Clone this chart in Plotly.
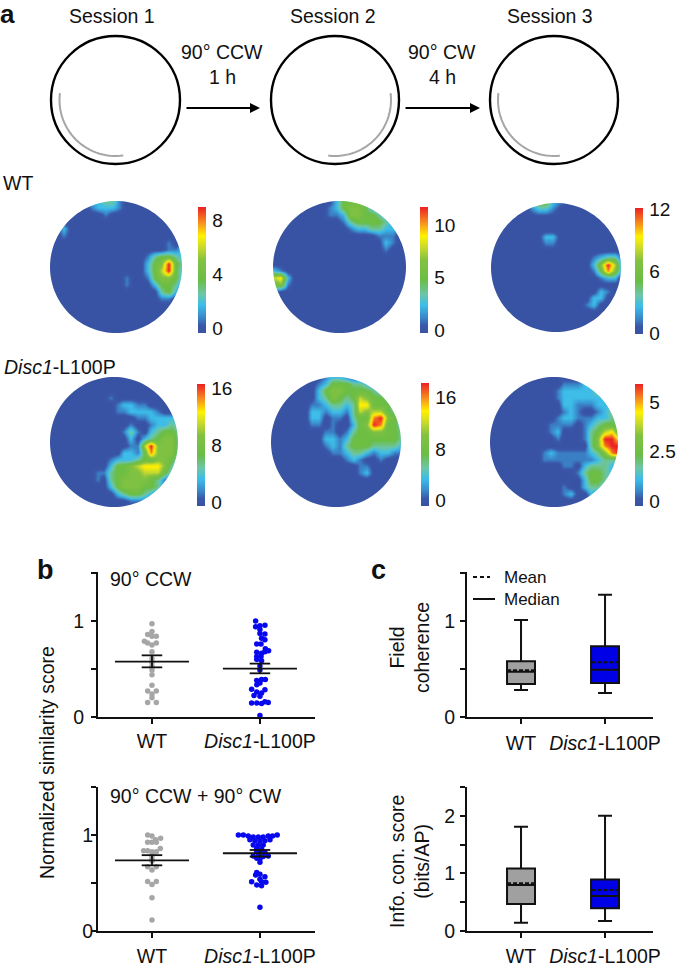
import math
import plotly.graph_objects as go

W, H = 685, 968
FONT = "Liberation Sans"

# ---------- panel a: firing-rate maps, colour level 0-9 on a 20x20 grid ----------
WT_S1 = [
"00000022331000000000","00000012221000000000","00000000100000000000","00000000000000000000",
"00200000000000000000","00100000000000000000","00000000000000000100","00000000000000000112",
"00000000000000134432","00000000000000245943","00000000000000246942","00000000000100145542",
"00000000000100024431","00000000000000003420","00000000000000001100","00000000000000000000",
"00000000000000000000","00000000000000000000","00000000000000000000","00000000000000000000"]
WT_S2 = [
"00000000024443200000","00000000124554210000","00000000112554431000","00000000001344443100",
"00000000000122332210","00000000000000011100","00000000000000002100","00000000000000001000",
"00000000000000000000","00000000000000000000","21000000000000000000","67200000000000000000",
"45100000000000000000","10000000000000000000","00000000000000000000","00000000000000000000",
"00000000000000000000","00000000000000000000","00000000000000000000","00000000000000000000"]
WT_S3 = [
"00000024421000000000","00000012210000000000","00000000000000000000","00000000000000000000",
"00000000000000000000","00000000220000000000","00000000110000000000","00000000000000000000",
"00000000000000012331","00000000000000025962","00000000000000014852","00000000000000001220",
"00000000000000000000","00000000000000002100","00000000000000022000","00000000000000120000",
"00000000000000000000","00000000000000000000","00000000000000000000","00000000000000000000"]
D1_S1 = [
"00000000000000000000","00000000000000000000","00000000000000000000","00000000010000000000",
"00000000001221100000","00000000001122221000","00000000000001122222","00000000000010012232",
"00000000000131023443","00000000000020234553","00000000000011695553","00000000000221485553",
"00000000012223445542","00000000024456777531","00000001134455666421","00000001034555543100",
"00000000024555443100","00000000002344321000","00000000000011100000","00000000000000000000"]
D1_S2 = [
"00000000122100000000","00000001244433210000","00000002455444432000","00000002354346544310",
"00000011233237744420","00000022122136566431","00000022011034489542","00000011010024598442",
"00000000110134455443","00000000221244444443","00000000121344433332","00000000011233212211",
"00000000000121001000","00000000000001100000","00000000000001200000","00000000000000000000",
"00000000000000000000","00000000000000000000","00000000000000000000","00000000000000000000"]
D1_S3 = [
"00000000000000000000","00000000000111223000","00000000001222223400","00000000001222222230",
"00000000000221112220","00000000000121001232","00000000001221112233","00000000011110123443",
"00000000012000134674","00000000001000135997","00000000000000035899","00000000121111123589",
"00000000111111112333","00000000000110233321","00000000000001344320","00000000000000244320",
"00000000000100233200","00000000000120021000","00000000000000000000","00000000000000000000"]

MAPS = [WT_S1, WT_S2, WT_S3, D1_S1, D1_S2, D1_S3]
MAP_BOX = [(50,182,201,333),(273,406,201,333),(491,621,203,332),
           (50,178,377,507),(271,401,377,507),(490,618,377,507)]
BAR_BOX = [(198,207,333),(420,207,333),(635,208,334),(197,384,506),(421,383,506),(635,384,506)]
Z_MIN = [-0.37,-0.29,-0.1,-0.56,-0.94,-0.25]
Z_MAX = [8.96,11.7,12.1,16.56,18.3,5.9]
BAR_TICKS = [[0,4,8],[0,5,10],[0,6,12],[0,8,16],[0,8,16],[0,2.5,5]]

JET = [[0,"#3953a4"],[0.06,"#3a57a8"],[0.12,"#3a86c8"],[0.22,"#3cbde9"],[0.31,"#6dc6a6"],
       [0.42,"#6abd45"],[0.58,"#83c241"],[0.68,"#c9da2c"],[0.77,"#fff200"],[0.87,"#f7941d"],[1,"#ed2024"]]

# ---------- panel b: similarity scores (y, horizontal jitter) ----------
B1_WT_Y  = [.97,.89,.86,.84,.84,.79,.77,.75,.77,.68,.61,.57,.53,.49,.44,.33,.27,.27,.24,.20,.15,.15]
B1_WT_DX = [0,0,-.04,0,.04,-.07,-.04,0,.04,0,0,0,0,0,0,0,-.04,.04,0,0,-.04,.04]
B1_D_Y = [1.0,.94,.95,.955,.91,.87,.865,.82,.805,.76,.76,.71,.69,.675,.665,.68,.63,.63,.60,.585,.53,.49,
          .38,.39,.39,.355,.335,.29,.285,.26,.25,.225,.215,.145,.145,.14,.15,.015,.16]
B1_D_DX = [-.04,-.04,0,.046,0,0,.046,.015,.046,-.03,.01,.05,.08,-.03,.015,.046,-.03,.01,-.03,.015,0,0,
           -.03,.015,.05,0,-.03,-.077,.046,-.03,.015,-.055,0,-.077,-.03,.015,.077,0,.046]
B2_WT_Y = [1.0,.99,.965,.95,.925,.925,.925,.86,.835,.835,.825,.825,.79,.757,.73,.67,.67,.635,.515,.515,.485,.347,.115]
B2_WT_DX = [-.04,0,.08,.034,0,-.04,.04,.077,-.077,-.04,0,.04,0,0,0,-.04,.04,0,-.04,.04,0,0,0]
B2_D_Y = [1.0,1.0,.99,.98,.98,.98,.99,.99,1.0,.95,.94,.94,.94,.95,.895,.895,.895,.86,.855,.825,.825,.82,
          .78,.78,.775,.78,.75,.757,.715,.61,.59,.583,.566,.54,.507,.514,.514,.48,.472,.247]
B2_D_DX = [-.2,-.154,-.108,-.062,-.015,.03,.077,.117,.16,-.093,-.046,0,.046,.093,-.062,-.015,.03,-.03,.015,-.03,.015,.046,
           -.062,-.015,.03,.077,0,-.03,0,-.03,0,-.04,.046,0,.055,-.077,.015,-.03,.015,0]
B_CENTERS = [1, 2]
# (mean, sem upper, sem lower) for WT then Disc1
B1_STATS = [(.576,.642,.517),(.503,.556,.455)]
B2_STATS = [(.736,.79,.684),(.81,.844,.775)]
B_LABELS = ["WT","<i>Disc1</i>-L100P"]
MEAN_HALF, CAP_HALF = .343, .095

# ---------- panel c: box statistics, [WT, Disc1] ----------
C1 = dict(q1=[.344,.354],median=[.47,.493],q3=[.58,.736],mean=[.486,.57],low=[.28,.25],high=[1.01,1.274])
C2 = dict(q1=[.468,.393],median=[.80,.607],q3=[1.087,.896],mean=[.827,.71],low=[.145,.173],high=[1.81,2.0])
BOX_COLORS = ["#a0a0a0","#0000e6"]
GREY, BLUE = "#a6a6a6", "#0808ee"

fig = go.Figure()
layout = dict(width=W,height=H,autosize=False,margin=dict(l=0,r=0,t=0,b=0,pad=0,autoexpand=False),
              paper_bgcolor="white",plot_bgcolor="rgba(0,0,0,0)",showlegend=False,
              font=dict(family=FONT,size=19,color="#111111"))
shapes, notes = [], []

def fx(x): return x/W
def fy(y): return 1-y/H
def dom(a0,a1,b0,b1):
    return [fx(a0),fx(a1)],[fy(b1),fy(b0)]

def txt(x,y,s,size=19.5,anchor="center",angle=0,bold=False):
    notes.append(dict(x=fx(x),y=fy(y),xref="paper",yref="paper",text=f"<b>{s}</b>" if bold else s,showarrow=False,
                      font=dict(family=FONT,size=size,color="#111111"),xanchor=anchor,yanchor="middle",textangle=angle))

# schematic
CIRCLES = [(51,180,36,164),(271,399,36,164),(490,618,36,164)]
ARCS = [(115.5,100,187,82),(335,100,-7,97),(554,100,187,84)]
for (x0,x1,y0,y1) in CIRCLES:
    shapes.append(dict(type="circle",xref="paper",yref="paper",x0=fx(x0),x1=fx(x1),y0=fy(y1),y1=fy(y0),
                       line=dict(color="#000000",width=2.4)))
for (cx,cy,a0,a1) in ARCS:
    pts=[(cx+56*math.cos(math.radians(a0+(a1-a0)*i/30)),cy+56*math.sin(math.radians(a0+(a1-a0)*i/30))) for i in range(31)]
    path="M "+" L ".join(f"{fx(a):.5f} {fy(b):.5f}" for a,b in pts)
    shapes.append(dict(type="path",xref="paper",yref="paper",path=path,line=dict(color=GREY,width=2)))
for name,xc in zip(["Session 1","Session 2","Session 3"],[112,333,550]):
    txt(xc,16,name)
txt(222,52,"90° CCW"); txt(222,77,"1 h"); txt(442,52,"90° CW"); txt(442,77,"4 h")
for x0,x1 in [(185,260),(404,480)]:
    notes.append(dict(x=fx(x1),y=fy(108),xref="paper",yref="paper",ax=-(x1-x0),ay=0,axref="pixel",ayref="pixel",
                      text="",showarrow=True,arrowhead=2,arrowsize=1,arrowwidth=2,arrowcolor="#000000"))
txt(8,14,"a",26,bold=True); txt(45,570,"b",27,bold=True); txt(378,570,"c",27,bold=True)
txt(1,183,"WT",anchor="left"); txt(2,367,"<i>Disc1</i>-L100P",anchor="left")

# maps: the axes reach a little past the circle so the mask hides every edge of the image
grid=[-1+2*i/19 for i in range(20)]
PAD=1.09
n=1
for rows,box,bar,zmin,zmax,ticks in zip(MAPS,MAP_BOX,BAR_BOX,Z_MIN,Z_MAX,BAR_TICKS):
    z=[[zmin+int(c)*(zmax-zmin)/9 for c in r] for r in rows]
    cx,cy=(box[0]+box[1])/2,(box[2]+box[3])/2
    rx,ry=(box[1]-box[0])/2*PAD,(box[3]-box[2])/2*PAD
    xd,yd=dom(cx-rx,cx+rx,cy-ry,cy+ry)
    sfx="" if n==1 else str(n)
    layout[f"xaxis{sfx}"]=dict(domain=xd,range=[-PAD,PAD],visible=False,anchor=f"y{sfx}")
    layout[f"yaxis{sfx}"]=dict(domain=yd,range=[PAD,-PAD],visible=False,anchor=f"x{sfx}")
    fig.add_trace(go.Heatmap(x=grid,y=grid,z=z,zmin=zmin,zmax=zmax,zsmooth="best",colorscale=JET,xaxis=f"x{sfx}",yaxis=f"y{sfx}",
        hoverinfo="skip",
        colorbar=dict(x=fx(bar[0]),xanchor="left",xpad=0,ypad=0,y=fy(bar[2]),yanchor="bottom",lenmode="pixels",len=bar[2]-bar[1],
                      thicknessmode="pixels",thickness=8,outlinewidth=0,borderwidth=0,tickmode="array",tickvals=ticks,
                      ticktext=[str(t) for t in ticks],ticks="outside",ticklen=3,tickcolor="#ffffff",
                      tickfont=dict(family=FONT,size=19,color="#111111"))))
    ring=[(math.cos(2*math.pi*i/120),math.sin(2*math.pi*i/120)) for i in range(120)]
    e=PAD+.05
    path=f"M {-e} {-e} L {e} {-e} L {e} {e} L {-e} {e} Z M "+" L ".join(f"{a:.4f} {b:.4f}" for a,b in ring)+" Z"
    shapes.append(dict(type="path",xref=f"x{sfx}",yref=f"y{sfx}",path=path,fillcolor="white",line=dict(width=0),layer="above"))
    n+=1

def chart(idx,xdom,ydom,xrange,yrange,yticks,ylabels,xtick_stand,ytick_stand):
    xd,yd=dom(xdom[0],xdom[1],ydom[0],ydom[1])
    base=dict(showline=True,linewidth=2,linecolor="#111111",ticks="outside",ticklen=5,tickwidth=1.8,tickcolor="#111111",
              showgrid=False,zeroline=False,tickfont=dict(family=FONT,size=19.5,color="#111111"),tickmode="array",
              ticklabelstandoff=0)
    layout[f"xaxis{idx}"]=dict(base,domain=xd,range=xrange,anchor=f"y{idx}",tickvals=B_CENTERS,ticktext=B_LABELS,ticklabelstandoff=xtick_stand)
    layout[f"yaxis{idx}"]=dict(base,domain=yd,range=yrange,anchor=f"x{idx}",tickvals=yticks,ticktext=ylabels,ticklabelstandoff=ytick_stand)

def swarm(idx,ys,dxs,center,color):
    fig.add_trace(go.Scatter(x=[center+d for d in dxs],y=ys,mode="markers",cliponaxis=False,hoverinfo="skip",
        marker=dict(color=color,size=5.5,line=dict(width=0)),xaxis=f"x{idx}",yaxis=f"y{idx}"))

def summary(idx,stats):
    for center,(m,up,lo) in zip(B_CENTERS,stats):
        xs=[center-MEAN_HALF,center+MEAN_HALF,None,center-CAP_HALF,center+CAP_HALF,None,center-CAP_HALF,center+CAP_HALF,None,center,center]
        ys=[m,m,None,up,up,None,lo,lo,None,up,lo]
        fig.add_trace(go.Scatter(x=xs,y=ys,mode="lines",line=dict(color="#111111",width=1.8),hoverinfo="skip",
                                 xaxis=f"x{idx}",yaxis=f"y{idx}"))

def boxes(idx,s):
    for i,c in enumerate(B_CENTERS):
        fig.add_trace(go.Box(x=[c],q1=[s["q1"][i]],median=[s["median"][i]],q3=[s["q3"][i]],mean=[s["mean"][i]],
            lowerfence=[s["low"][i]],upperfence=[s["high"][i]],boxmean=True,width=.333,whiskerwidth=.5,
            fillcolor=BOX_COLORS[i],line=dict(color="#111111",width=2),hoverinfo="skip",xaxis=f"x{idx}",yaxis=f"y{idx}"))

BX=[.5,2.51]; CX=[.357,2.571]
chart(7,(98,315),(572,717),BX,[0,1.51],[0,.5,1,1.5],["0","","1",""],1,3)
chart(8,(98,315),(787,931),BX,[0,1.5],[0,.5,1,1.5],["0","","1",""],2,-6)
chart(9,(467,653),(572,717),CX,[0,1.51],[0,.5,1,1.5],["0","","1",""],3,1)
chart(10,(467,653),(787,931),CX,[0,2.5],[0,.5,1,1.5,2,2.5],["0","","1","","2",""],2,1)

swarm(7,B1_WT_Y,B1_WT_DX,1,GREY); swarm(7,B1_D_Y,B1_D_DX,2,BLUE); summary(7,B1_STATS)
swarm(8,B2_WT_Y,B2_WT_DX,1,GREY); swarm(8,B2_D_Y,B2_D_DX,2,BLUE); summary(8,B2_STATS)
boxes(9,C1); boxes(10,C2)

txt(108,579,"90° CCW",anchor="left"); txt(108,796,"90° CCW + 90° CW",anchor="left")
txt(47,763,"Normalized similarity score",angle=-90)
txt(409,648,"Field<br>coherence",angle=-90); txt(409,862,"Info. con. score<br>(bits/AP)",angle=-90)
txt(502,577,"Mean",17,anchor="left"); txt(502,599,"Median",17,anchor="left")
shapes.append(dict(type="line",xref="paper",yref="paper",x0=fx(473),x1=fx(490),y0=fy(577),y1=fy(577),line=dict(color="#111111",width=2,dash="4px,3px")))
shapes.append(dict(type="line",xref="paper",yref="paper",x0=fx(473),x1=fx(495),y0=fy(599),y1=fy(599),line=dict(color="#111111",width=2)))

layout["shapes"]=shapes; layout["annotations"]=notes
fig.update_layout(**layout)
fig.write_html("out.html",config={"displayModeBar":False},post_script="document.body.style.margin='0';document.body.style.overflow='hidden';")
